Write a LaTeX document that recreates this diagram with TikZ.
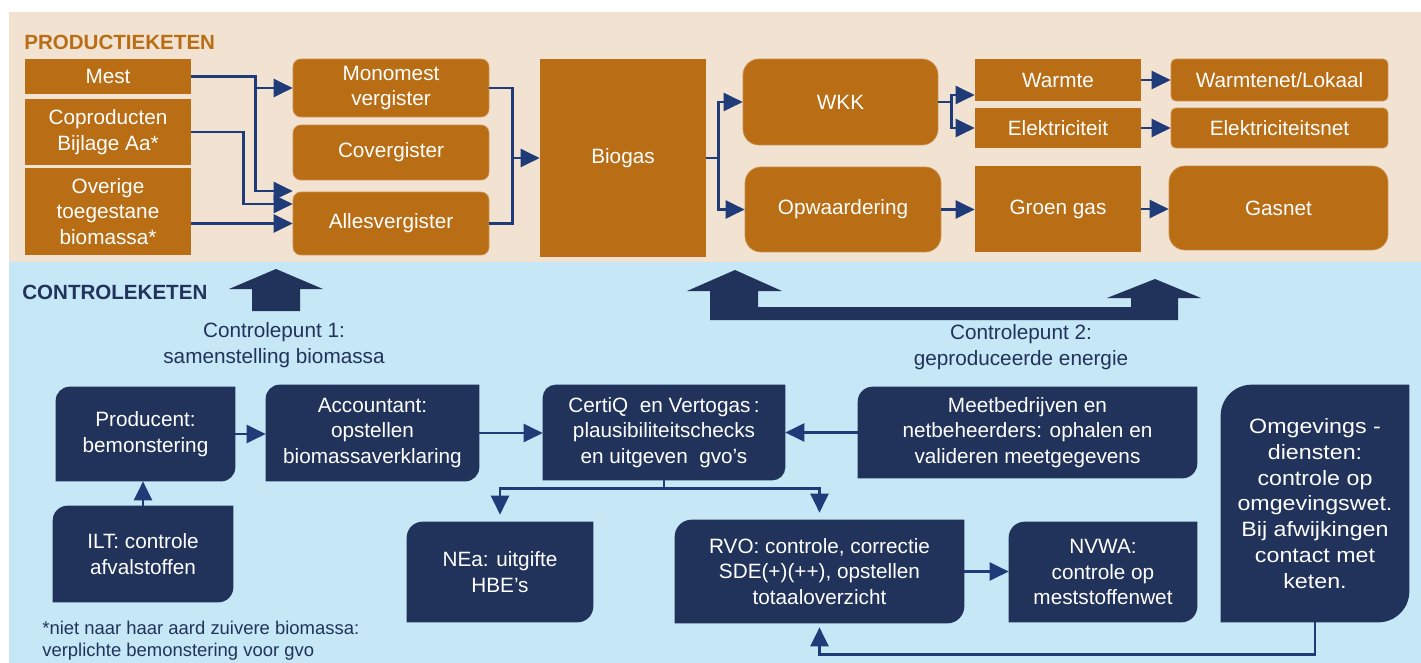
\documentclass[tikz,border=0pt]{standalone}
\usepackage{fontspec}
\setmainfont{Liberation Sans}
\newfontfamily\wijd[FakeStretch=1.12]{Liberation Sans}
\usetikzlibrary{arrows.meta,backgrounds}
\definecolor{beige}{HTML}{F1E2D1}
\definecolor{bruin}{HTML}{B96E16}
\definecolor{bruinrand}{HTML}{CB8C48}
\definecolor{lichtblauw}{HTML}{C5E7F6}
\definecolor{navy}{HTML}{21335B}
\definecolor{pijl}{HTML}{1F3B78}

\begin{document}
\begin{tikzpicture}[x=0.02cm,y=-0.02cm,
    font=\fontsize{11.8}{14.5}\selectfont,
    sqbox/.style={fill=bruin,text=white,inner sep=0pt,align=center},
    rbox/.style={sqbox,draw=bruinrand,line width=0.4pt,rounded corners=#1},
    leaf/.style={text=white,inner sep=0pt,align=center},
    lijn/.style={draw=pijl,line width=1.4pt},
    conn/.style={lijn,-{Triangle[length=0.38cm,width=0.36cm]}},
    tekst/.style={text=navy,align=center}]
    \useasboundingbox (0,0) rectangle (1421,663);

    %Achtergrond
    \begin{pgfonlayer}{background}
        \fill[white] (0,0) rectangle (1421,663);
        \fill[beige] (9,12) rectangle (1421,262);
        \fill[lichtblauw] (9,262) rectangle (1421,663);
    \end{pgfonlayer}

    %Productieketen
    \node[anchor=west,inner sep=0pt,text=bruin,font=\fontsize{11.7}{14}\selectfont\bfseries] (titel1) at (24,42) {PRODUCTIEKETEN};

    \node[sqbox,minimum width=3.32cm,minimum height=0.70cm] (mest) at (108,76.5) {Mest};
    \node[sqbox,minimum width=3.32cm,minimum height=1.32cm] (copro) at (108,132) {Coproducten\\Bijlage Aa*};
    \node[sqbox,minimum width=3.32cm,minimum height=1.74cm] (overig) at (108,211.5) {Overige\\toegestane\\biomassa*};

    \node[rbox=0.16cm,minimum width=3.92cm,minimum height=1.16cm] (mono) at (391,88) {Monomest\\vergister};
    \node[rbox=0.16cm,minimum width=3.92cm,minimum height=1.10cm] (cover) at (391,152.5) {Covergister};
    \node[rbox=0.16cm,minimum width=3.92cm,minimum height=1.26cm] (alles) at (391,223.5) {Allesvergister};

    \node[sqbox,minimum width=3.32cm,minimum height=3.96cm] (biogas) at (623,158) {Biogas};

    \node[rbox=0.32cm,minimum width=3.90cm,minimum height=1.72cm] (wkk) at (840.5,102) {WKK};
    \node[rbox=0.32cm,minimum width=3.92cm,minimum height=1.70cm] (opw) at (843,209.5) {Opwaardering};

    \node[sqbox,minimum width=3.32cm,minimum height=0.84cm] (warmte) at (1058,80) {Warmte};
    \node[sqbox,minimum width=3.32cm,minimum height=0.80cm] (elek) at (1058,128) {Elektriciteit};
    \node[sqbox,minimum width=3.32cm,minimum height=1.72cm] (groen) at (1058,209) {Groen gas};

    \node[rbox=0.1cm,minimum width=4.34cm,minimum height=0.84cm] (wnet) at (1279.5,80) {Warmtenet/Lokaal};
    \node[rbox=0.1cm,minimum width=4.34cm,minimum height=0.80cm] (enet) at (1279.5,128) {Elektriciteitsnet};
    \node[rbox=0.32cm,minimum width=4.38cm,minimum height=1.68cm] (gasnet) at (1278.5,208) {Gasnet};

    %Pijlen productie
    \draw[conn] (mest.east) -- ++(64,0) coordinate (m1) |- (mono.west);
    \draw[conn] (m1) |- ([yshift=0.65cm]alles.west);
    \draw[conn] (copro.east) -- ++(52,0) |- ([yshift=0.39cm]alles.west);
    \draw[conn] (overig.east |- alles.west) -- (alles.west);
    \draw[lijn] (mono.east) -| ([xshift=-0.54cm]biogas.west) |- (alles.east);
    \draw[conn] ([xshift=-0.54cm]biogas.west) -- (biogas.west);
    \draw[conn] (biogas.east) -- ++(12,0) |- (wkk.west);
    \draw[conn] (biogas.east) ++(12,0) |- (opw.west);
    \draw[conn] (wkk.east) -- ++(13,0) |- ([yshift=-0.3cm]warmte.west);
    \draw[conn] (wkk.east) ++(13,0) |- (elek.west);
    \draw[conn] (warmte.east) -- (wnet.west);
    \draw[conn] (elek.east) -- (enet.west);
    \draw[conn] (opw.east) -- (opw.east -| groen.west);
    \draw[conn] (groen.east) -- (groen.east -| gasnet.west);

    %Controleketen
    \node[anchor=west,inner sep=0pt,text=navy,font=\fontsize{11.7}{14}\selectfont\bfseries] (titel2) at (22,292) {CONTROLEKETEN};

    \fill[navy] (252,311) -- (252,289) -- (229,289) -- (276,269) -- (323,289) -- (300,289) -- (300,311) -- cycle;
    \fill[navy] (710,320) -- (710,291) -- (687,291) -- (735,270) -- (782,291) -- (758,291) -- (758,307)
        -- (1131,307) -- (1131,298) -- (1107,298) -- (1155,279) -- (1201,298) -- (1178,298) -- (1178,320) -- cycle;

    \node[tekst] (cp1) at (274,345) {Controlepunt 1:\\samenstelling biomassa};
    \node[tekst] (cp2) at (1021,347) {Controlepunt 2:\\geproduceerde energie};

    \node[leaf,minimum width=3.58cm,minimum height=1.88cm] (prod) at (145.5,434) {Producent:\\bemonstering};
    \node[leaf,minimum width=4.26cm,minimum height=1.92cm] (acc) at (372.5,433) {Accountant:\\opstellen\\biomassaverklaring};
    \node[leaf,minimum width=4.84cm,minimum height=1.90cm] (certiq) at (664,432.5) {CertiQ\ \ en Vertogas\,:\\plausibiliteitschecks\\en uitgeven\ \ gvo’s};
    \node[leaf,minimum width=6.78cm,minimum height=1.82cm] (meet) at (1027.5,432.5) {Meetbedrijven en\\netbeheerders: ophalen en\\valideren meetgegevens};
    \node[leaf,minimum width=3.76cm,minimum height=4.74cm,font=\wijd\fontsize{11.8}{14.7}\selectfont] (omg) at (1315,503.5) {Omgevings -\\diensten:\\controle op\\omgevingswet.\\Bij afwijkingen\\contact met\\keten.};
    \node[leaf,minimum width=3.60cm,minimum height=1.92cm] (ilt) at (143,554) {ILT: controle\\afvalstoffen};
    \node[leaf,minimum width=3.72cm,minimum height=2.00cm] (nea) at (500,572) {NEa: uitgifte\\HBE’s};
    \node[leaf,minimum width=5.78cm,minimum height=2.06cm] (rvo) at (819.5,571.5) {RVO: controle, correctie\\SDE(+)(++), opstellen\\totaaloverzicht};
    \node[leaf,minimum width=3.76cm,minimum height=2.00cm] (nvwa) at (1103,572) {NVWA:\\controle op\\meststoffenwet};

    \begin{pgfonlayer}{background}
        \foreach \n/\r in {prod/0.28cm,acc/0.28cm,certiq/0.26cm,meet/0.3cm,ilt/0.3cm,nea/0.32cm,rvo/0.34cm,nvwa/0.32cm,omg/0.62cm}
            \fill[navy] (\n.south west) -- ([yshift=-\r]\n.north west) arc[start angle=180,end angle=90,radius=\r]
                -- (\n.north east) -- ([yshift=\r]\n.south east) arc[start angle=0,end angle=-90,radius=\r] -- cycle;
    \end{pgfonlayer}

    \node[anchor=west,inner sep=0pt,text=navy,align=left,font=\fontsize{10.5}{12.5}\selectfont] (voetnoot) at (42,641) {*niet naar haar aard zuivere biomassa:\\verplichte bemonstering voor gvo};

    %Pijlen controle
    \draw[conn] (ilt.north) -- (ilt.north |- prod.south);
    \draw[conn] (prod.east) -- (prod.east -| acc.west);
    \draw[conn] (acc.east) -- (acc.east -| certiq.west);
    \draw[conn] (meet.west) -- (meet.west -| certiq.east);
    \draw[lijn] (certiq.south) -- ++(0,8) coordinate (cq);
    \draw[conn,shorten >=0.14cm] (cq) -| (nea.north);
    \draw[conn,shorten >=0.14cm] (cq) -| (rvo.north);
    \draw[conn] (rvo.east) -- (rvo.east -| nvwa.west);
    \draw[conn,shorten >=0.08cm] (omg.south) -- ++(0,32) -| (rvo.south);
\end{tikzpicture}
\end{document}
